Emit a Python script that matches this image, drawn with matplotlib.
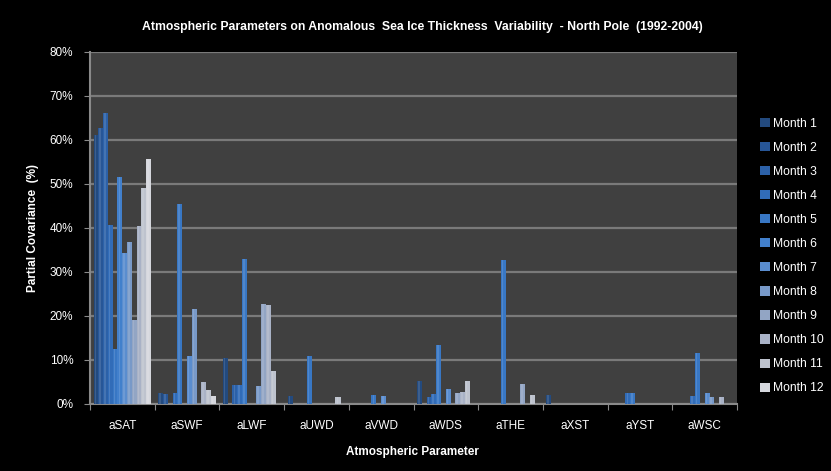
import numpy as np
import matplotlib
matplotlib.use("Agg")
import matplotlib.pyplot as plt
from matplotlib.patches import Patch
from matplotlib.ticker import FuncFormatter

plt.rcParams["font.family"] = ["Liberation Sans Narrow", "Liberation Sans", "DejaVu Sans"]

# Data (partial covariance, %), one list per atmospheric parameter, months 1..12
params = ["aSAT", "aSWF", "aLWF", "aUWD", "aVWD", "aWDS", "aTHE", "aXST", "aYST", "aWSC"]
months = ["Month %d" % m for m in range(1, 13)]

aSAT = [61.1, 62.6, 66.1, 40.6, 12.3, 51.5, 34.2, 36.7, 18.9, 40.5, 49.0, 55.6]
aSWF = [2.4, 2.1, 0, 2.4, 45.5, 0, 10.7, 21.4, 0, 5.0, 3.0, 1.6]
aLWF = [10.4, 0, 4.3, 4.3, 32.8, 0, 0, 3.9, 22.6, 22.4, 7.3, 0]
aUWD = [1.6, 0, 0, 0, 10.8, 0, 0, 0, 0, 0, 1.5, 0]
aVWD = [0, 0, 0, 0, 1.9, 0, 1.8, 0, 0, 0, 0, 0]
aWDS = [5.1, 0, 1.5, 2.2, 13.3, 0, 3.3, 0, 2.4, 2.7, 5.1, 0]
aTHE = [0, 0, 0, 0, 32.6, 0, 0, 0, 4.4, 0, 1.9, 0]
aXST = [1.9, 0, 0, 0, 0, 0, 0, 0, 0, 0, 0, 0]
aYST = [0, 0, 0, 2.4, 2.4, 0, 0, 0, 0, 0, 0, 0]
aWSC = [0, 0, 0, 1.8, 11.4, 0, 2.4, 1.4, 0, 1.4, 0, 0]

# Month colours: dark blue -> light grey
month_colors = [
    "#234a7e", "#275697", "#2c61a8", "#316cb8", "#3877c4", "#4280cc",
    "#5a8dcf", "#7899c8", "#92a5c4", "#a9b2c6", "#bec3ce", "#d5d7dd",
]

values = np.array([aSAT, aSWF, aLWF, aUWD, aVWD, aWDS, aTHE, aXST, aYST, aWSC])

fig = plt.figure(figsize=(8.31, 4.71), dpi=100, facecolor="black")
ax = fig.add_axes([90 / 831, 1 - 403.5 / 471, 647 / 831, 351.5 / 471])
ax.set_facecolor("#404040")

x = np.arange(len(params))
width = 0.074
for j in range(12):
    offs = (j - 5.5) * width
    ax.bar(x + offs, values[:, j], width=width * 1.05, color=month_colors[j],
           edgecolor="none", zorder=3)
    # simple highlight strip to mimic the shaded excel bars
    ax.bar(x + offs - width * 0.15, values[:, j], width=width * 0.3, color="white",
           alpha=0.12, edgecolor="none", zorder=4)

ax.set_xlim(-0.5, len(params) - 0.5)
ax.set_ylim(0, 80)
ax.set_yticks(np.arange(0, 81, 10))
ax.yaxis.set_major_formatter(FuncFormatter(lambda v, p: "%d%%" % v))
ax.grid(True, axis="y", color="#7a7a7a", lw=1.6, zorder=1)

ax.set_xticks(np.arange(-0.5, len(params)), minor=False)
ax.set_xticklabels([])
ax.set_xticks(x, minor=True)
ax.set_xticklabels(params, minor=True)
ax.tick_params(axis="x", which="minor", length=0, pad=12, colors="white", labelsize=8.5)
ax.tick_params(axis="x", which="major", length=4, color="#8a8a8a")
ax.tick_params(axis="y", length=4, color="#8a8a8a", colors="white", labelsize=8.5, pad=8)

for s in ["top", "right"]:
    ax.spines[s].set_visible(False)
for s in ["left", "bottom"]:
    ax.spines[s].set_color("#8a8a8a")
    ax.spines[s].set_linewidth(1.5)

fig.text(412 / 831, 1 - 452 / 471, "Atmospheric Parameter", color="white", fontsize=8.5,
         fontweight="bold", ha="center", va="center")
fig.text(33 / 831, 1 - 228 / 471, "Partial Covariance  (%)", color="white", fontsize=8.5,
         fontweight="bold", ha="center", va="center", rotation=90)
fig.text(422 / 831, 1 - 27 / 471, "Atmospheric Parameters on Anomalous  Sea Ice Thickness  Variability  - North Pole  (1992-2004)",
         color="white", fontsize=8.8, fontweight="bold", ha="center", va="center")

handles = [Patch(facecolor=c, edgecolor="none") for c in month_colors]
fig.legend(handles, months, loc="center left", bbox_to_anchor=(749 / 831, 1 - 256 / 471),
           frameon=False, labelcolor="white", fontsize=8.7, handlelength=0.8, handleheight=0.8,
           handletextpad=0.25, labelspacing=1.0)

fig.savefig("out.png", dpi=100, facecolor="black")
